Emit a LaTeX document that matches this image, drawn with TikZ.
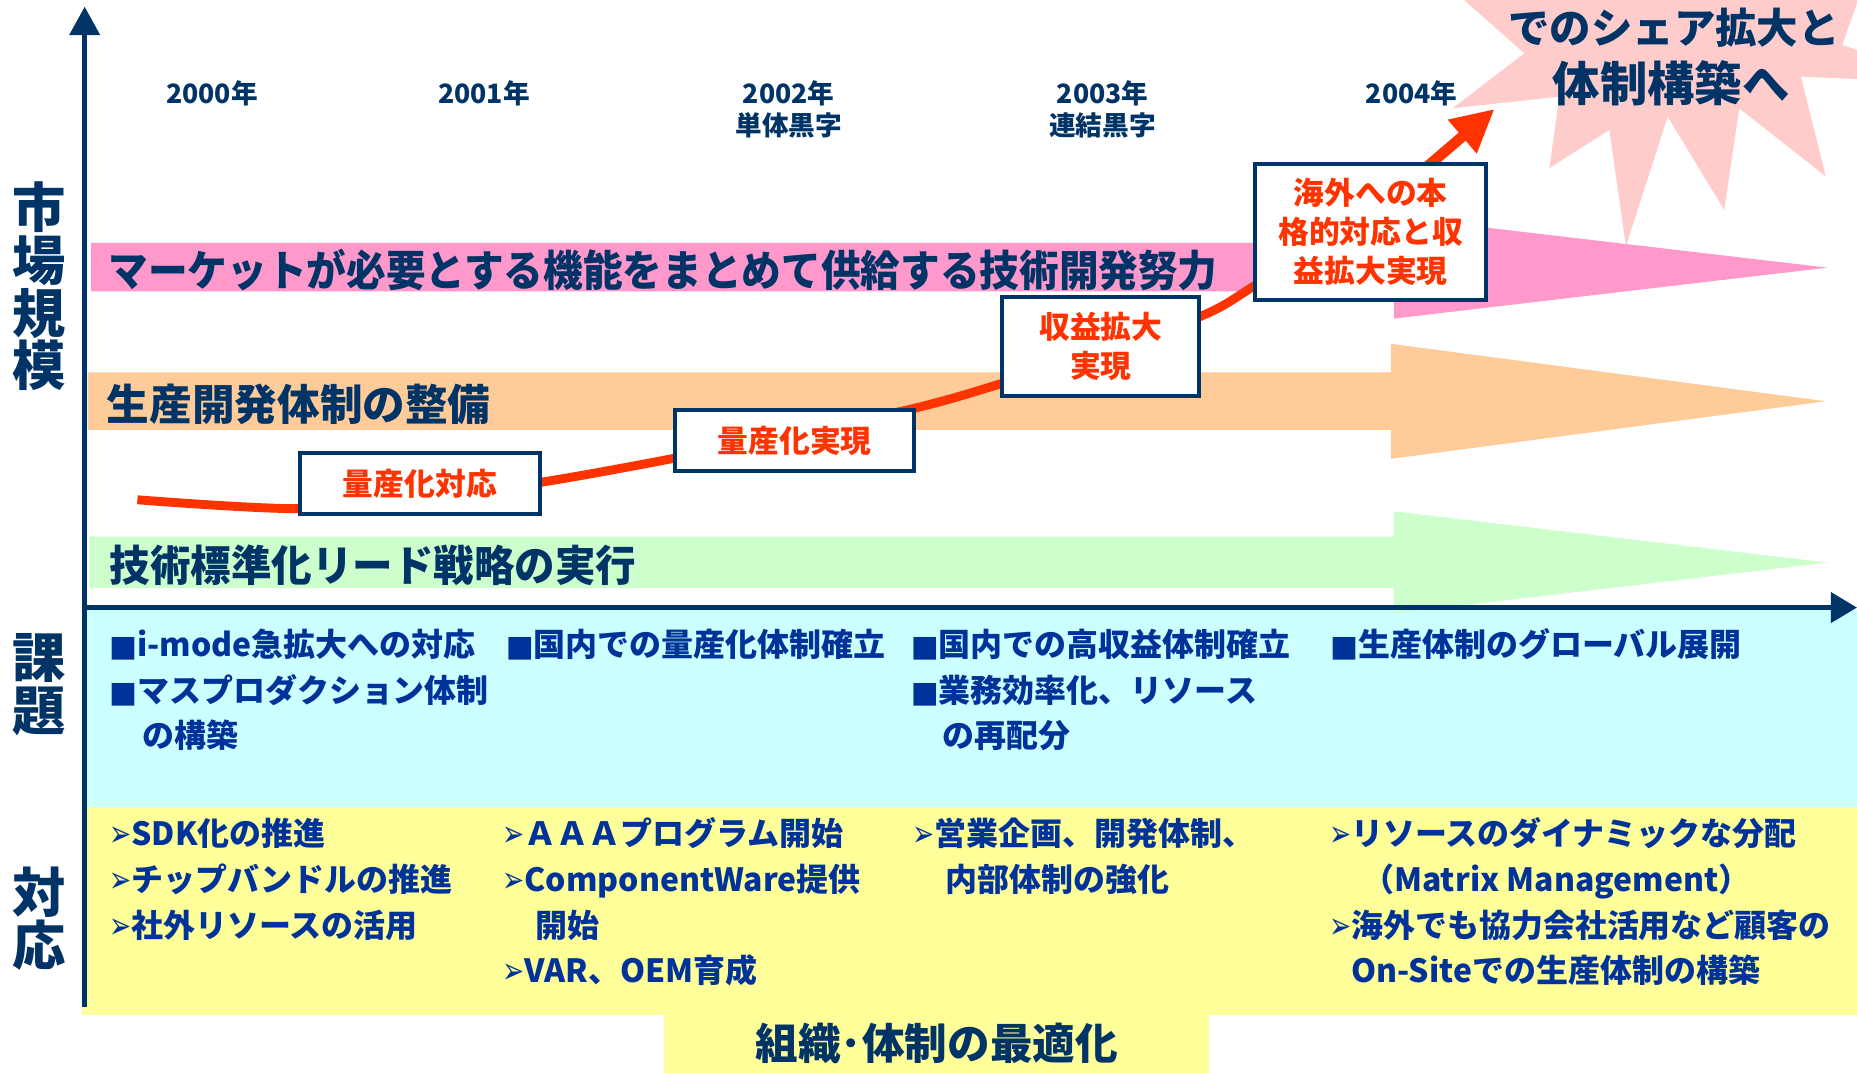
\documentclass[tikz,border=0pt]{standalone}
\usepackage{fontspec}
\usepackage{graphicx}
\setmainfont{Noto Sans CJK JP}
\newfontfamily\dvfont{DejaVu Sans}
\usetikzlibrary{arrows.meta}
\definecolor{navy}{HTML}{003366}
\definecolor{bultxt}{HTML}{003399}
\definecolor{redc}{HTML}{FF3300}
\definecolor{pinkb}{HTML}{FF99CC}
\definecolor{orangeb}{HTML}{FFCC99}
\definecolor{greenb}{HTML}{CCFFCC}
\definecolor{cyanb}{HTML}{CCFFFF}
\definecolor{yellowb}{HTML}{FFFF99}
\definecolor{burst}{HTML}{FFCCCC}
\newcommand{\myfs}[2]{\fontsize{#1}{#2}\selectfont}
\newcommand{\sqb}{{\dvfont\myfs{25}{25}■}}
\newcommand{\arb}{{\dvfont\myfs{31}{27}\raisebox{-1pt}{\scalebox{0.72}[1]{➢}}}}
\tikzset{
  yr/.style={font=\bfseries\myfs{22.5}{27}, text=navy, inner sep=0pt, align=center},
  bandtxt/.style={font=\bfseries\myfs{36}{36}, text=navy, inner sep=0pt, anchor=west, text height=31pt, text depth=4pt},
  vlab/.style={font=\bfseries\myfs{45}{44.5}, text=navy, inner sep=0pt, align=center},
  bul/.style={font=\bfseries\myfs{27}{27}, text=bultxt, inner sep=0pt, anchor=west, text height=23pt, text depth=4pt},
  rbox/.style={draw=navy, line width=3.4pt, fill=white, text=redc, font=\bfseries\myfs{26}{33}, align=center, inner sep=0pt},
  axisline/.style={draw=navy, line width=4.4pt},
  burtxt/.style={text=navy, inner sep=0pt},
}
\begin{document}
\begin{tikzpicture}[x=1pt,y=-1pt]
\useasboundingbox (0,0) rectangle (1568,906);
\clip (0,0) rectangle (1568,906);
\fill[white] (0,0) rectangle (1568,906);

% lower panels
\fill[cyanb] (73,515) rectangle (1568,681);
\fill[yellowb] (69,681) rectangle (1568,856.7);
\node[fill=yellowb, minimum width=460pt, minimum height=49.3pt, inner sep=0pt,
      font=\bfseries\myfs{36}{36}, text=navy] (opt) at (791,881.4) {組織･体制の最適化};

% band arrows
\fill[pinkb] (77,205) -- (1177,205) -- (1177,183) -- (1543,226) -- (1177,269) -- (1177,246) -- (77,246) -- cycle;
\fill[orangeb] (74,314.5) -- (1174.4,314.5) -- (1174.4,290.3) -- (1541.7,338.8) -- (1174.4,387.4) -- (1174.4,363) -- (74,363) -- cycle;
\fill[greenb] (75.4,453) -- (1177,453) -- (1177,431.8) -- (1543,475) -- (1177,518) -- (1177,496.6) -- (75.4,496.6) -- cycle;

\node[bandtxt] (bt1) at (91.5,228.6) {\scalebox{0.93}[1]{マーケットが必要とする機能をまとめて供給する技術開発努力}};
\node[bandtxt] (bt2) at (90,341.5) {生産開発体制の整備};
\node[bandtxt] (bt3) at (92.5,477.5) {\scalebox{0.95}[1]{技術標準化リード戦略の実行}};

% starburst
\fill[burst] (1226.6,91.4) -- (1287.1,45) -- (1190,-41) -- (1400,-90) -- (1590,-60)
  -- (1555.5,38) -- (1650,70) -- (1520.6,64.7) -- (1541.7,149) -- (1468.6,91.4)
  -- (1455.9,177.2) -- (1408.1,98.5) -- (1372.9,208) -- (1358.9,109.7)
  -- (1308.2,142) -- (1316.7,81.6) -- cycle;
\node[burtxt, font=\bfseries\myfs{35}{35}] (bur1) at (1413.5,23.2) {でのシェア拡大と};
\node[burtxt, font=\bfseries\myfs{40}{40}] (bur2) at (1411,70.3) {体制構築へ};

% years
\node[yr] (y0) at (179,78.5) {2000年};
\node[yr] (y1) at (408.6,78.5) {2001年};
\node[yr] (y2) at (666,92) {2002年\\単体黒字};
\node[yr] (y3) at (931,92) {2003年\\連結黒字};
\node[yr] (y4) at (1192,78.5) {2004年};

% growth curve
\coordinate (c0) at (116,422);
\coordinate (c1) at (251,429.5);
\coordinate (c2) at (355,421);
\coordinate (c3) at (458,407);
\coordinate (c4) at (569,387);
\coordinate (c5) at (672,366);
\coordinate (c6) at (775,344);
\coordinate (c7) at (845,324);
\coordinate (c8) at (930,296);
\coordinate (c9) at (1014,267);
\coordinate (c10) at (1058,242);
\coordinate (c11) at (1130,193);
\coordinate (c12) at (1200,145);
\coordinate (atip) at (1262,92);
\draw[redc, line width=7.5pt] plot[smooth, tension=0.55] coordinates {(c0) (c1) (c2) (c3) (c4) (c5) (c6) (c7) (c8) (c9) (c10) (c11) (c12)};
\draw[redc, line width=9pt, -{Triangle[length=36pt,width=35pt]}] (c12) -- (atip);

% milestone boxes
\node[rbox, minimum width=202.6pt, minimum height=51.6pt] (b1) at (354.5,408.5) {量産化対応};
\node[rbox, minimum width=201.6pt, minimum height=51.6pt] (b2) at (671,372) {量産化実現};
\node[rbox, minimum width=166.5pt, minimum height=83.6pt] (b3) at (929.5,292.5) {収益拡大\\実現};
\node[rbox, minimum width=195.6pt, minimum height=115pt] (b4) at (1157.3,195.8) {海外への本\\格的対応と収\\益拡大実現};

% axes
\coordinate (ybot) at (71.5,850);
\coordinate (ytop) at (71.5,5.6);
\coordinate (xst) at (69.3,513);
\coordinate (xend) at (1568,513);
\draw[axisline, -{Triangle[length=24pt,width=25pt]}] (ybot) -- (ytop);
\draw[axisline, -{Triangle[length=22pt,width=25pt]}] (xst) -- (xend);

% side labels
\node[vlab] (lmkt) at (33,241.75) {市\\場\\規\\模};
\node[vlab] (lkad) at (33,578.25) {課\\題};
\node[vlab] (ltai) at (33,775.75) {対\\応};

% issues
\node[bul] (k1) at (92,545) {\sqb i-mode急拡大への対応};
\node[bul] (k2) at (92,584) {\sqb マスプロダクション体制};
\node[bul] (k3) at (120,622) {の構築};
\node[bul] (k4) at (427,545) {\sqb 国内での量産化体制確立};
\node[bul] (k5) at (769,545) {\sqb 国内での高収益体制確立};
\node[bul] (k6) at (769,584) {\sqb 業務効率化、リソース};
\node[bul] (k7) at (796,622) {の再配分};
\node[bul] (k8) at (1123,545) {\sqb 生産体制のグローバル展開};

% responses
\node[bul] (r1) at (92,704) {\arb SDK化の推進};
\node[bul] (r2) at (92,743) {\arb チップバンドルの推進};
\node[bul] (r3) at (92,782) {\arb 社外リソースの活用};
\node[bul] (r4) at (424,704) {\arb ＡＡＡプログラム開始};
\node[bul] (r5) at (424,743) {\arb ComponentWare提供};
\node[bul] (r6) at (452,782) {開始};
\node[bul] (r7) at (424,820) {\arb VAR、OEM育成};
\node[bul] (r8) at (770,704) {\arb 営業企画、開発体制、};
\node[bul] (r9) at (798,743) {内部体制の強化};
\node[bul] (r10) at (1122,704) {\arb リソースのダイナミックな分配};
\node[bul] (r11) at (1150,743) {（Matrix Management）};
\node[bul] (r12) at (1122,782) {\arb 海外でも協力会社活用など顧客の};
\node[bul] (r13) at (1141,820) {On-Siteでの生産体制の構築};
\end{tikzpicture}
\end{document}
